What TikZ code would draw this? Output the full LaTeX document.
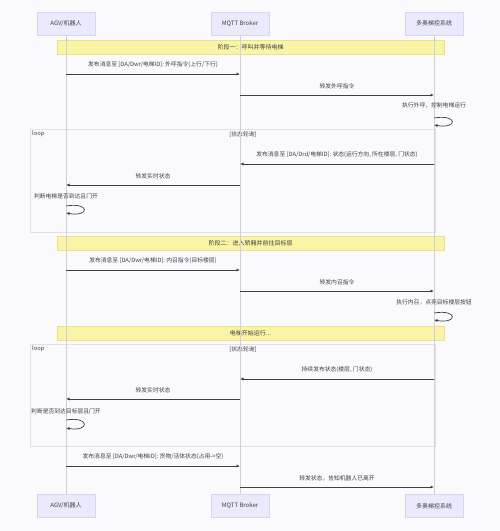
\documentclass[tikz,border=0pt]{standalone}
\usepackage{fontspec}
\newfontfamily\cjk{Noto Sans CJK SC}
\usetikzlibrary{arrows.meta}

\definecolor{bgcol}{RGB}{250,249,252}
\definecolor{actorfill}{RGB}{234,234,252}
\definecolor{actorline}{RGB}{214,212,238}
\definecolor{notefill}{RGB}{250,244,166}
\definecolor{noteline}{RGB}{232,226,140}
\definecolor{lifegray}{RGB}{208,208,214}
\definecolor{framegray}{RGB}{226,226,230}
\definecolor{txtgray}{RGB}{64,64,68}

\tikzset{
    actor/.style={draw=actorline, fill=actorfill, minimum width=58pt, minimum height=23pt,
        inner sep=0pt, text=txtgray, font=\cjk\fontsize{6}{7}\selectfont},
    note/.style={draw=noteline, fill=notefill, minimum width=387pt, minimum height=14pt,
        inner sep=0pt, text=txtgray, font=\cjk\fontsize{6}{7}\selectfont},
    lbl/.style={inner sep=0pt, text=txtgray, font=\cjk\fontsize{5.8}{7}\selectfont},
    msg/.style={draw=txtgray, line width=0.7pt, -{Latex[length=3.5pt,width=3pt]}},
    life/.style={draw=lifegray, line width=0.6pt},
    frame/.style={draw=framegray, line width=0.6pt}
}

\begin{document}
\begin{tikzpicture}[x=1pt, y=-1pt]
    \fill[bgcol] (0,0) rectangle (500,531);
    \useasboundingbox (0,0) rectangle (500,531);

    % participants
    \node[actor] (agvT)  at (66,23.5)  {AGV/机器人};
    \node[actor] (mqttT) at (240,23.5) {MQTT Broker};
    \node[actor] (sysT)  at (434,23.5) {多奥梯控系统};
    \node[actor] (agvB)  at (66,506)   {AGV/机器人};
    \node[actor] (mqttB) at (240,506)  {MQTT Broker};
    \node[actor] (sysB)  at (434,506)  {多奥梯控系统};

    % loop frames
    \draw[frame] (30,129) rectangle (435,232);
    \node[lbl, anchor=north west] (loopA) at (32,131) {loop};
    \node[lbl] (condA) at (243,135) {[状态轮询]};
    \draw[frame] (30,344) rectangle (435,446);
    \node[lbl, anchor=north west] (loopB) at (32,346) {loop};
    \node[lbl] (condB) at (243,350) {[状态轮询]};

    % notes
    \node[note] (phaseA) at (250.5,47)  {阶段一：呼叫并等待电梯};
    \node[note] (phaseB) at (250.5,243) {阶段二：进入轿厢并前往目标层};
    \node[note] (run)    at (250.5,333.5) {电梯开始运行...};

    % lifelines
    \draw[life] (agvT) -- (agvB);
    \draw[life] (mqttT) -- (mqttB);
    \draw[life] (sysT) -- (sysB);

    % phase 1
    \draw[msg] (agvT |- 0,74) -- (mqttT |- 0,74)
        node[lbl, midway, above=6pt] (m1) {发布消息至 [DA/Dwr/电梯ID]: 外呼指令(上行/下行)};
    \draw[msg] (mqttT |- 0,95) -- (sysT |- 0,95)
        node[lbl, midway, above=6pt] (m2) {转发外呼指令};
    \node[lbl] (m3) at (sysT |- 0,105) {执行外呼，控制电梯运行};
    \draw[msg] (sysT |- 0,118) .. controls +(24,-4) and +(24,4) .. (sysT |- 0,125);

    \draw[msg] (sysT |- 0,164) -- (mqttT |- 0,164)
        node[lbl, midway, above=6pt] (m4) {发布消息至 [DA/Drd/电梯ID]: 状态(运行方向, 所在楼层, 门状态)};
    \draw[msg] (mqttT |- 0,185) -- (agvT |- 0,185)
        node[lbl, midway, above=6pt] (m5) {转发实时状态};
    \node[lbl] (m6) at (agvT |- 0,196) {判断电梯是否到达且门开};
    \draw[msg] (agvT |- 0,206) .. controls +(24,-4) and +(24,4) .. (agvT |- 0,213);

    % phase 2
    \draw[msg] (agvT |- 0,270) -- (mqttT |- 0,270)
        node[lbl, midway, above=6pt] (m7) {发布消息至 [DA/Dwr/电梯ID]: 内召指令(目标楼层)};
    \draw[msg] (mqttT |- 0,291) -- (sysT |- 0,291)
        node[lbl, midway, above=6pt] (m8) {转发内召指令};
    \node[lbl] (m9) at (sysT |- 0,302) {执行内召，点亮目标楼层按钮};
    \draw[msg] (sysT |- 0,313) .. controls +(24,-4) and +(24,4) .. (sysT |- 0,320);

    \draw[msg] (sysT |- 0,379) -- (mqttT |- 0,379)
        node[lbl, midway, above=6pt] (m10) {持续发布状态(楼层, 门状态)};
    \draw[msg] (mqttT |- 0,399) -- (agvT |- 0,399)
        node[lbl, midway, above=6pt] (m11) {转发实时状态};
    \node[lbl] (m12) at (agvT |- 0,411) {判断是否到达目标层且门开};
    \draw[msg] (agvT |- 0,420) .. controls +(24,-4) and +(24,4) .. (agvT |- 0,428);

    \draw[msg] (agvT |- 0,466) -- (mqttT |- 0,466)
        node[lbl, midway, above=6pt] (m13) {发布消息至 [DA/Dwr/电梯ID]: 货物/活体状态(占用->空)};
    \draw[msg] (mqttT |- 0,487) -- (sysT |- 0,487)
        node[lbl, midway, above=6pt] (m14) {转发状态，告知机器人已离开};
\end{tikzpicture}
\end{document}
